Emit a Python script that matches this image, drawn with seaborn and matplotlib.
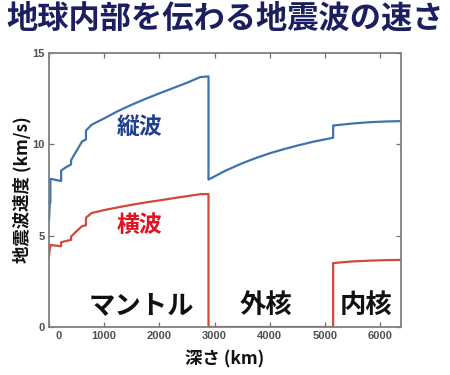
import matplotlib
matplotlib.use("Agg")
import matplotlib.pyplot as plt
import matplotlib.transforms as mtransforms
import seaborn as sns
import pandas as pd

# P-wave (縦波) velocity profile: depth (km), velocity (km/s)
depth_p = [0, 15, 24, 24, 80, 220, 220, 300, 400, 400, 500, 600, 670, 670, 771,
           1000, 1250, 1500, 1750, 2000, 2250, 2500, 2741, 2891, 2891,
           3200, 3500, 3750, 4000, 4250, 4500, 4800,
           5150, 5150, 5500, 5800, 6100, 6371]
vp = [5.8, 6.8, 6.8, 8.11, 8.08, 7.99, 8.56, 8.73, 8.90, 9.13, 9.65, 10.16, 10.27, 10.75, 11.07,
      11.42, 11.82, 12.17, 12.49, 12.79, 13.08, 13.37, 13.68, 13.72, 8.07,
      8.56, 8.96, 9.25, 9.51, 9.73, 9.93, 10.15,
      10.36, 11.03, 11.14, 11.21, 11.25, 11.27]

# S-wave (横波) velocity profile
depth_s = [0, 15, 24, 24, 80, 220, 220, 300, 400, 400, 500, 600, 670, 670, 771,
           1000, 1250, 1500, 1750, 2000, 2250, 2500, 2741, 2891, 2891,
           5150, 5150, 5500, 5800, 6100, 6371]
vs = [3.85, 4.3, 4.4, 4.49, 4.47, 4.42, 4.64, 4.70, 4.77, 4.95, 5.25, 5.52, 5.57, 5.98, 6.24,
      6.40, 6.55, 6.69, 6.82, 6.93, 7.05, 7.16, 7.27, 7.28, 0.0,
      0.0, 3.50, 3.59, 3.63, 3.66, 3.67]

x_ticks = [0, 1000, 2000, 3000, 4000, 5000, 6000]
y_ticks = [0, 5, 10, 15]

title = "地球内部を伝わる地震波の速さ"
x_label = "深さ (km)"
y_label = "地震波速度 (km/s)"
wave_labels = ["縦波", "横波"]
region_labels = ["マントル", "外核", "内核"]
region_pos = [1680, 3935, 5750]

sns.set_theme(style="ticks")
plt.rcParams["font.family"] = ["Noto Sans CJK JP", "DejaVu Sans"]

fig = plt.figure(figsize=(4.5, 3.75), dpi=100)
ax = fig.add_axes([49 / 450, 1 - 327 / 375, (400.5 - 49) / 450, (327 - 53) / 375])

blue = "#3f73ab"
red = "#d0493c"
dfp = pd.DataFrame({"depth": depth_p, "v": vp})
dfs = pd.DataFrame({"depth": depth_s, "v": vs})
sns.lineplot(data=dfp, x="depth", y="v", ax=ax, color=blue, lw=1.6,
             estimator=None, sort=False)
sns.lineplot(data=dfs, x="depth", y="v", ax=ax, color=red, lw=1.6,
             estimator=None, sort=False)

ax.set_xlim(0, 6371)
ax.set_ylim(0, 15)
ax.set_xticks(x_ticks)
ax.set_yticks(y_ticks)
ax.tick_params(direction="in", top=True, right=True, length=3.5, width=0.9,
               color="#707070", labelsize=8, labelcolor="#505050", pad=3)
for lab in ax.get_xticklabels() + ax.get_yticklabels():
    lab.set_fontweight("bold")
    lab.set_family(["Liberation Sans", "DejaVu Sans"])
# shift the "0" tick label slightly right as in the reference
xl = ax.get_xticklabels()
xl[0].set_transform(xl[0].get_transform() + mtransforms.ScaledTranslation(10 / 100, 0, fig.dpi_scale_trans))

for s in ax.spines.values():
    s.set_color("#808080")
    s.set_linewidth(1.3)
    s.set_zorder(5)

ax.set_xlabel(x_label, fontsize=12.5, fontweight="bold", color="#111111", labelpad=7)
ax.set_ylabel(y_label, fontsize=12.5, fontweight="bold", color="#111111", labelpad=1)

ax.text(1643, 10.9, wave_labels[0], fontsize=16.5, fontweight="bold", color="#1f3f8f",
        ha="center", va="center")
ax.text(1643, 5.58, wave_labels[1], fontsize=16.5, fontweight="bold", color="#e0141e",
        ha="center", va="center")
for lbl, xp in zip(region_labels, region_pos):
    ax.text(xp, 1.2, lbl, fontsize=19, fontweight="bold", color="#111111",
            ha="center", va="center")

fig.text(0.501, 1 - 19 / 375, title, fontsize=22.5, fontweight="bold", color="#1b1f5f",
         ha="center", va="center")

fig.savefig("out.png", dpi=100)
